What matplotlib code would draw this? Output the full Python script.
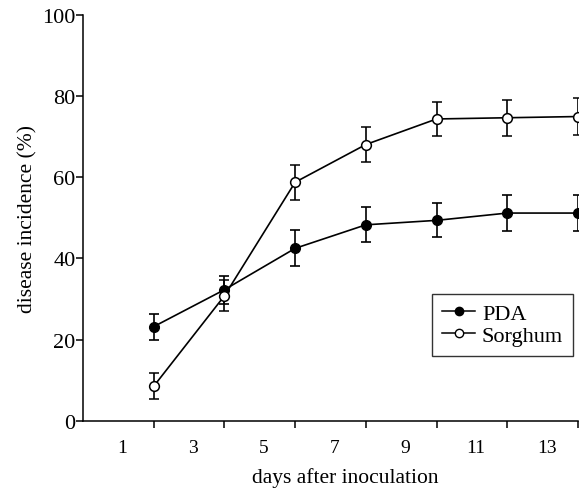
import matplotlib
matplotlib.use("Agg")
import matplotlib.pyplot as plt
import matplotlib.transforms as mtransforms
from matplotlib.lines import Line2D

days = [2, 4, 6, 8, 10, 12, 14]
pda_mean = [23.2, 32.3, 42.5, 48.3, 49.4, 51.2, 51.2]
pda_err = [3.2, 3.5, 4.4, 4.3, 4.2, 4.4, 4.4]
sorghum_mean = [8.5, 30.8, 58.8, 68.1, 74.4, 74.7, 75.0]
sorghum_err = [3.2, 3.8, 4.3, 4.2, 4.3, 4.4, 4.5]

tick_days = [2, 4, 6, 8, 10, 12, 14]
label_pos = [1, 3, 5, 7, 9, 11, 13]
label_txt = ['1', '3', '5', '7', '9', '11', '13']

plt.rcParams['font.family'] = ['Liberation Serif', 'DejaVu Serif']

fig = plt.figure(figsize=(5.81, 4.89), dpi=100)
ax = fig.add_axes([0.1429, 0.1376, 0.8519, 0.8294])

ax.errorbar(days, pda_mean, yerr=pda_err, color='black', marker='o',
            markersize=7, markerfacecolor='black', markeredgecolor='black',
            linewidth=1.2, elinewidth=1.2, capsize=3.6, capthick=1.2,
            zorder=3)
ax.errorbar(days, sorghum_mean, yerr=sorghum_err, color='black', marker='o',
            markersize=7, markerfacecolor='white', markeredgecolor='black',
            markeredgewidth=1.1, linewidth=1.2, elinewidth=1.2, capsize=3.6,
            capthick=1.2, zorder=4)

ax.set_xlim(0, 14)
ax.set_ylim(0, 100)
ax.set_yticks([0, 20, 40, 60, 80, 100])
ax.set_xticks(tick_days)
ax.set_xticklabels([])
ax.set_xticks(label_pos, minor=True)
ax.set_xticklabels(label_txt, minor=True)
ax.tick_params(axis='x', which='minor', length=0, pad=13, labelsize=14)
ax.tick_params(axis='x', which='major', length=5, width=1.1, direction='out')
ax.tick_params(axis='y', length=5, width=1.1, direction='out', labelsize=16, pad=0.5)

# labels sit a little right of the midpoint between ticks
shift = mtransforms.ScaledTranslation(4 / 100, 0, fig.dpi_scale_trans)
for lab in ax.get_xticklabels(minor=True):
    lab.set_transform(lab.get_transform() + shift)

for side in ['top', 'right']:
    ax.spines[side].set_visible(False)
for side in ['left', 'bottom']:
    ax.spines[side].set_linewidth(1.1)

ax.set_xlabel('days after inoculation', fontsize=15.5, labelpad=5)
ax.xaxis.set_label_coords(0.53, -0.115)
ax.set_ylabel('disease incidence (%)', fontsize=15.5, labelpad=3)

handles = [
    Line2D([], [], color='black', marker='o', markersize=6, linewidth=1.1,
           markerfacecolor='black'),
    Line2D([], [], color='black', marker='o', markersize=6, linewidth=1.1,
           markerfacecolor='white'),
]
leg = ax.legend(handles, ['PDA', 'Sorghum'], loc='lower right',
                bbox_to_anchor=(0.99, 0.16), frameon=True,
                fancybox=False, edgecolor='black', fontsize=16,
                handlelength=1.5, handletextpad=0.3, borderpad=0.45,
                labelspacing=0.05, borderaxespad=0)
leg.get_frame().set_linewidth(1.0)

fig.savefig('out.png', dpi=100)
